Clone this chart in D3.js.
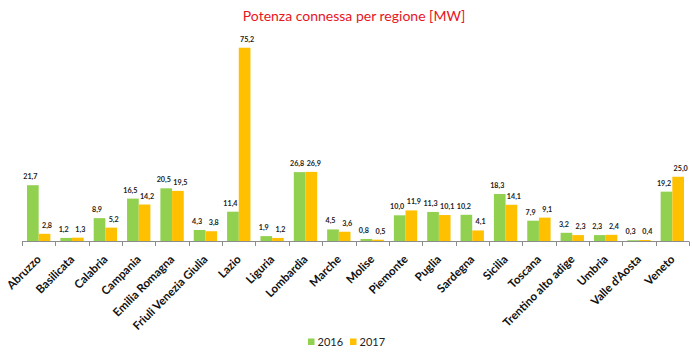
<!DOCTYPE html>
<html>
<head>
<meta charset="utf-8">
<script src="https://cdnjs.cloudflare.com/ajax/libs/d3/7.8.5/d3.min.js"></script>
<style>
  body { margin: 0; background: #fff; }
  svg { display: block; }
</style>
</head>
<body>
<div id="container"></div>
<script>
// regions and connected power (MW)
let regions = ["Abruzzo", "Basilicata", "Calabria", "Campania", "Emilia Romagna",
  "Friuli Venezia Giulia", "Lazio", "Liguria", "Lombardia", "Marche", "Molise",
  "Piemonte", "Puglia", "Sardegna", "Sicilia", "Toscana", "Trentino alto adige",
  "Umbria", "Valle d'Aosta", "Veneto"];
let values2016 = [21.7, 1.2, 8.9, 16.5, 20.5, 4.3, 11.4, 1.9, 26.8, 4.5, 0.8,
  10.0, 11.3, 10.2, 18.3, 7.9, 3.2, 2.3, 0.3, 19.2];
let values2017 = [2.8, 1.3, 5.2, 14.2, 19.5, 3.8, 75.2, 1.2, 26.9, 3.6, 0.5,
  11.9, 10.1, 4.1, 14.1, 9.1, 2.3, 2.4, 0.4, 25.0];
let years = ["2016", "2017"];
let colors = ["#92D050", "#FFC000"];

let w = 692;
let h = 353;
let font = "Lato, 'Open Sans', sans-serif";

let viz = d3.select("#container")
  .append("svg")
    .attr("width", w)
    .attr("height", h)
    .style("background-color", "white");

// title
viz.append("text")
  .text("Potenza connessa per regione [MW]")
  .attr("x", 354)
  .attr("y", 20.5)
  .attr("text-anchor", "middle")
  .attr("fill", "#E8141E")
  .attr("font-family", font)
  .attr("font-size", "14px");

let xScale = d3.scaleBand().domain(regions).range([22, 689]).paddingInner(0).paddingOuter(0);
let inner = d3.scaleBand().domain(years).range([5, xScale.bandwidth() - 5]);
let yScale = d3.scaleLinear().domain([0, 80]).range([241, 35.4]);

let series = [values2016, values2017];
let labelShift = [-2.5, 2.5];

let groups = viz.append("g").selectAll(".region")
  .data(regions)
  .enter()
  .append("g")
    .attr("class", "region")
    .attr("transform", function(d){ return "translate(" + xScale(d) + ",0)"; });

groups.each(function(region, i){
  let g = d3.select(this);
  years.forEach(function(yr, k){
    let v = series[k][i];
    g.append("rect")
      .attr("x", inner(yr))
      .attr("y", yScale(v))
      .attr("width", inner.bandwidth())
      .attr("height", yScale(0) - yScale(v))
      .attr("fill", colors[k]);
    g.append("text")
      .text(d3.format(".1f")(v).replace(".", ","))
      .attr("x", inner(yr) + inner.bandwidth() / 2 + labelShift[k])
      .attr("y", Math.min(yScale(v) - 6, 237))
      .attr("text-anchor", "middle")
      .attr("fill", "#222")
      .attr("font-weight", "bold")
      .attr("font-family", font)
      .attr("font-size", "7.2px");
  });
});

// x axis with ticks at category boundaries
let axis = viz.append("g").attr("class", "xaxis");
axis.append("line")
  .attr("x1", 22).attr("x2", 689)
  .attr("y1", 241.5).attr("y2", 241.5)
  .attr("stroke", "#8c8c8c");
let bounds = regions.map(function(d){ return xScale(d); }).concat([689]);
axis.selectAll(".tick")
  .data(bounds)
  .enter()
  .append("line")
    .attr("x1", function(d){ return Math.round(d) + 0.5; })
    .attr("x2", function(d){ return Math.round(d) + 0.5; })
    .attr("y1", 241.5).attr("y2", 246)
    .attr("stroke", "#8c8c8c");

axis.selectAll(".xlabel")
  .data(regions)
  .enter()
  .append("text")
    .text(function(d){ return d; })
    .attr("text-anchor", "end")
    .attr("transform", function(d){
      let cx = xScale(d) + xScale.bandwidth() / 2 + 3;
      return "translate(" + cx + ",260) rotate(-45)";
    })
    .attr("fill", "#111")
    .attr("font-weight", "bold")
    .attr("font-family", font)
    .attr("font-size", "11.5px");

// legend
let legend = viz.append("g").attr("class", "legend");
let legendX = [308, 350];
years.forEach(function(yr, k){
  legend.append("rect")
    .attr("x", legendX[k])
    .attr("y", 338.5)
    .attr("width", 6.5)
    .attr("height", 6.5)
    .attr("fill", colors[k]);
  legend.append("text")
    .text(yr)
    .attr("x", legendX[k] + 9.5)
    .attr("y", 346)
    .attr("fill", "#222")
    .attr("font-family", font)
    .attr("font-size", "11px");
});
</script>
</body>
</html>
